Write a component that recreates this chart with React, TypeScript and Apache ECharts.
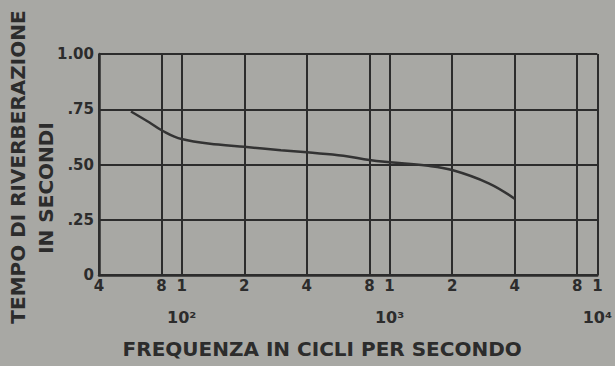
import React, { useEffect, useRef } from "react";
import * as echarts from "echarts";

const frequencies = [57, 70, 80, 100, 150, 200, 300, 400, 600, 800, 1000, 1500, 2000, 3000, 4000];
const reverbTimes = [0.74, 0.69, 0.655, 0.615, 0.59, 0.58, 0.565, 0.555, 0.54, 0.52, 0.51, 0.495, 0.475, 0.415, 0.345];
const xGridValues = [40, 80, 100, 200, 400, 800, 1000, 2000, 4000, 8000, 10000];
const xTickText: Record<number, string> = {
  40: "4", 80: "8", 100: "1", 200: "2", 400: "4", 800: "8",
  1000: "1", 2000: "2", 4000: "4", 8000: "8", 10000: "1",
};
const decadeText: Record<number, string> = { 100: "10²", 1000: "10³", 10000: "10⁴" };
const yTickText: Record<string, string> = { "0": "0", "0.25": ".25", "0.5": ".50", "0.75": ".75", "1": "1.00" };
const xTitle = "FREQUENZA IN CICLI PER SECONDO";
const yTitle1 = "TEMPO DI RIVERBERAZIONE";
const yTitle2 = "IN SECONDI";

const INK = "#2c2c2c";
const FONT = "DejaVu Sans";

export default function App() {
  const ref = useRef<HTMLDivElement>(null);
  useEffect(() => {
    if (!ref.current) return;
    const chart = echarts.init(ref.current, undefined, { renderer: "svg" });
    chart.setOption({
      animation: false,
      backgroundColor: "#a8a8a4",
      grid: { left: 99, right: 12, top: 54, bottom: 91 },
      xAxis: {
        type: "log",
        min: 40,
        max: 10000,
        axisLine: { show: true, onZero: false, lineStyle: { color: INK, width: 2.5 } },
        axisTick: { show: false, customValues: xGridValues },
        splitLine: { show: true, lineStyle: { color: INK, width: 2 } },
        minorSplitLine: { show: false },
        axisLabel: {
          customValues: xGridValues,
          showMaxLabel: true,
          showMinLabel: true,
          hideOverlap: false,
          margin: 2,
          color: INK,
          fontFamily: FONT,
          fontWeight: 700,
          fontSize: 15,
          formatter: (v: number) => {
            const key = Math.round(v);
            const t = xTickText[key] ?? "";
            const d = decadeText[key];
            return d ? `{a|${t}}\n{b|${d}}` : `{a|${t}}`;
          },
          rich: {
            a: { fontSize: 15, fontWeight: 700, fontFamily: FONT, color: INK, lineHeight: 17 },
            b: { fontSize: 16, fontWeight: 700, fontFamily: FONT, color: INK, lineHeight: 46 },
          },
        },
        name: xTitle,
        nameLocation: "middle",
        nameGap: 64,
        nameTextStyle: { color: INK, fontFamily: FONT, fontWeight: 700, fontSize: 20, padding: [0, 52, 0, 0] },
      },
      yAxis: {
        type: "value",
        min: 0,
        max: 1,
        interval: 0.25,
        axisLine: { show: true, lineStyle: { color: INK, width: 2.5 } },
        axisTick: { show: false },
        splitLine: { show: true, lineStyle: { color: INK, width: 2 } },
        axisLabel: {
          margin: 5,
          color: INK,
          fontFamily: FONT,
          fontWeight: 700,
          fontSize: 15,
          formatter: (v: number) => yTickText[String(v)] ?? String(v),
        },
      },
      graphic: [
        {
          type: "text",
          x: 18,
          y: 167,
          rotation: Math.PI / 2,
          style: {
            text: yTitle1,
            fill: INK,
            font: `bold 20px ${FONT}`,
            align: "center",
            verticalAlign: "middle",
          },
        },
        {
          type: "text",
          x: 46,
          y: 188,
          rotation: Math.PI / 2,
          style: {
            text: yTitle2,
            fill: INK,
            font: `bold 20px ${FONT}`,
            align: "center",
            verticalAlign: "middle",
          },
        },
      ],
      series: [
        {
          type: "line",
          data: frequencies.map((f, i) => [f, reverbTimes[i]]),
          smooth: 0.4,
          showSymbol: false,
          lineStyle: { color: "#333333", width: 2.5 },
        },
      ],
    });
    return () => chart.dispose();
  }, []);
  return <div ref={ref} style={{ width: 615, height: 366, position: "absolute", left: 0, top: 0 }} />;
}
